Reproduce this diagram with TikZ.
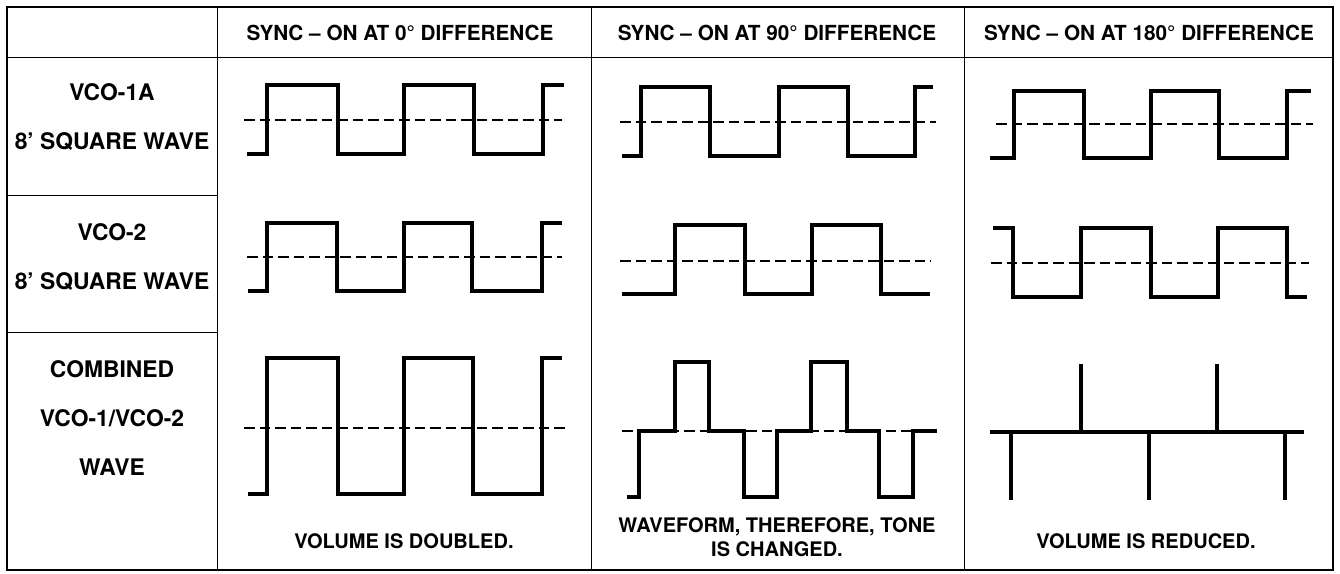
\documentclass[tikz,border=0pt]{standalone}
\usepackage{fontspec}
\setmainfont{TeX Gyre Heros}

\begin{document}
\begin{tikzpicture}[
  x=0.2mm, y=-0.2mm,
  frame/.style={line width=0.9pt, black},
  rule/.style={line width=0.55pt, black},
  wave/.style={line width=1.8pt, black, line join=miter},
  zero/.style={line width=1.1pt, black, dash pattern=on 2.1mm off 1mm},
  head/.style={font=\bfseries\fontsize{11.8}{13}\selectfont,
               inner sep=0pt, text depth=0pt},
  rowlabel/.style={font=\bfseries\fontsize{13}{27.9}\selectfont,
               align=center, inner sep=0pt, text depth=0pt},
  note/.style={font=\bfseries\fontsize{11.4}{13.6}\selectfont,
               align=center, inner sep=0pt, text depth=0pt}]

%% Coordinates are pixels of the 1340x573 sheet, y running downwards.
\useasboundingbox (0,0) rectangle (1340,573);

%% ---- table ----
\draw[frame] (7,7) rectangle (1333,570);
\draw[rule] (7,57) -- (1333,57);
\draw[rule] (217,7) -- (217,570);
\draw[rule] (591,7) -- (591,570);
\draw[rule] (964,7) -- (964,570);
% row rules only in the label column
\draw[rule] (7,195) -- (217,195);
\draw[rule] (7,332) -- (217,332);

%% ---- headings and row labels ----
\node[head] (headzero) at (400,33) {SYNC – ON AT 0° DIFFERENCE};
\node[head] (headninety) at (777,33) {SYNC – ON AT 90° DIFFERENCE};
\node[head] (headeighty) at (1149,33) {SYNC – ON AT 180° DIFFERENCE};

\node[rowlabel] (vcoone) at (112,117) {VCO-1A\\8’ SQUARE WAVE};
\node[rowlabel] (vcotwo) at (112,257) {VCO-2\\8’ SQUARE WAVE};
\node[rowlabel] (vcosum) at (112,418) {COMBINED\\VCO-1/VCO-2\\WAVE};

%% ---- column 0 deg: both oscillators in step ----
\draw[zero] (244,120) -- (562,120);
\draw[wave] (247,154) -- (267,154) -- (267,85) -- (338,85) -- (338,154)
  -- (404,154) -- (404,85) -- (474,85) -- (474,154) -- (543,154)
  -- (543,85) -- (564,85);
\draw[zero] (247,257) -- (562,257);
\draw[wave] (248,291) -- (267,291) -- (267,223) -- (337,223) -- (337,291)
  -- (404,291) -- (404,223) -- (472,223) -- (472,291) -- (542,291)
  -- (542,223) -- (562,223);
\draw[zero] (244,428) -- (566,428);
\draw[wave] (248,494) -- (267,494) -- (267,358) -- (338,358) -- (338,494)
  -- (404,494) -- (404,358) -- (473,358) -- (473,494) -- (542,494)
  -- (542,358) -- (562,358);
\node[note] (notezero) at (404,541) {VOLUME IS DOUBLED.};

%% ---- column 90 deg: VCO-2 a quarter period late ----
\draw[zero] (620,122) -- (936,122);
\draw[wave] (622,156) -- (641,156) -- (641,87) -- (710,87) -- (710,156)
  -- (779,156) -- (779,87) -- (848,87) -- (848,156) -- (915,156)
  -- (915,87) -- (933,87);
\draw[zero] (620,261) -- (931,261);
\draw[wave] (622,294) -- (675,294) -- (675,225) -- (745,225) -- (745,294)
  -- (812,294) -- (812,225) -- (881,225) -- (881,294) -- (930,294);
% the sum steps through three levels; the dashed zero shows in the gaps
\draw[zero] (622,431) -- (935,431);
\draw[wave] (627,497) -- (639,497) -- (639,431) -- (675,431) -- (675,362)
  -- (709,362) -- (709,431) -- (744,431) -- (744,497) -- (777,497)
  -- (777,431) -- (811,431) -- (811,362) -- (847,362) -- (847,431)
  -- (879,431) -- (879,497) -- (913,497) -- (913,431) -- (937,431);
\node[note] (noteninety) at (777,537) {WAVEFORM, THEREFORE, TONE\\IS CHANGED.};

%% ---- column 180 deg: VCO-2 inverted ----
\draw[zero] (996,124) -- (1313,124);
\draw[wave] (990,158) -- (1014,158) -- (1014,91) -- (1084,91) -- (1084,158)
  -- (1151,158) -- (1151,91) -- (1219,91) -- (1219,158) -- (1287,158)
  -- (1287,91) -- (1311,91);
\draw[zero] (991,263) -- (1309,263);
\draw[wave] (993,228) -- (1013,228) -- (1013,297) -- (1081,297) -- (1081,228)
  -- (1151,228) -- (1151,297) -- (1218,297) -- (1218,228) -- (1287,228)
  -- (1287,297) -- (1307,297);
% the halves cancel: only spikes on a flat line remain
\draw[wave] (990,432) -- (1304,432);
\foreach \x in {1081,1217}
  \draw[wave] (\x,432) -- (\x,364);
\foreach \x in {1011,1149,1285}
  \draw[wave] (\x,432) -- (\x,500);
\node[note] (noteeighty) at (1146,541) {VOLUME IS REDUCED.};
\end{tikzpicture}
\end{document}
